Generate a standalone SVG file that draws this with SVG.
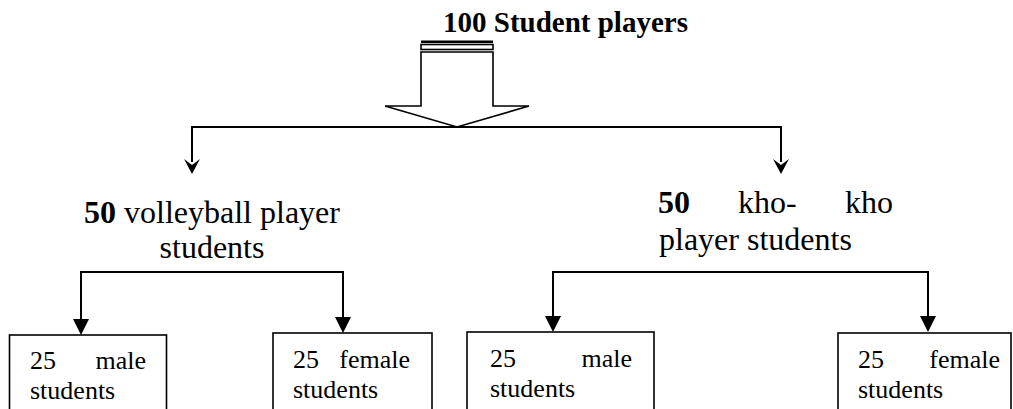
<svg xmlns="http://www.w3.org/2000/svg" width="1013" height="409" viewBox="0 0 1013 409">
<style>
.t{font-family:"Liberation Serif","Times New Roman",serif;fill:#000}
.b{font-weight:bold}
.big{font-size:32px}
.box{font-size:26px}
.ln{stroke:#000;stroke-width:2;fill:none}
.bx{stroke:#000;stroke-width:1.6;fill:#fff}
.ah{fill:#000;stroke:none}
</style>
<g id="title">
<text class="t b" x="443" y="32" font-size="29">100 Student players</text>
</g>
<g id="blockarrow">
<rect x="421" y="40.5" width="72" height="2.5" fill="#000"/>
<rect x="421" y="44.5" width="72" height="5" class="bx" stroke-width="1.4"/>
<polygon points="421,52 493,52 493,106 529,106 457,127 385,106 421,106" fill="#fff" stroke="#000" stroke-width="1.6"/>
</g>
<g id="connectors">
<path class="ln" d="M192,162 V127 H781 V162"/>
<path class="ah" d="M192,174 L184,159 L192,165 L200,159 Z"/>
<path class="ah" d="M781,174 L773,159 L781,165 L789,159 Z"/>
<path class="ln" d="M81,320 V272 H343 V320"/>
<path class="ah" d="M81,335 L73,319 L89,319 Z"/>
<path class="ah" d="M343,333 L335,317 L351,317 Z"/>
<path class="ln" d="M553,318 V272 H928 V318"/>
<path class="ah" d="M553,332 L545,316 L561,316 Z"/>
<path class="ah" d="M928,332 L920,316 L936,316 Z"/>
</g>
<g id="volleyball">
<text class="t big" x="212" y="223" text-anchor="middle"><tspan class="b">50</tspan> volleyball player</text>
<text class="t big" x="212" y="258" text-anchor="middle">students</text>
</g>
<g id="khokho">
<text class="t big b" x="658" y="213">50</text>
<text class="t big" x="738" y="213">kho-</text>
<text class="t big" x="893" y="213" text-anchor="end">kho</text>
<text class="t big" x="659" y="250">player students</text>
</g>
<g id="vb-male">
<rect class="bx" x="9.5" y="335" width="157" height="90"/>
<text class="t box" x="30" y="369">25</text>
<text class="t box" x="146" y="369" text-anchor="end">male</text>
<text class="t box" x="30" y="399">students</text>
</g>
<g id="vb-female">
<rect class="bx" x="273" y="333" width="159" height="90"/>
<text class="t box" x="293" y="368">25</text>
<text class="t box" x="410" y="368" text-anchor="end">female</text>
<text class="t box" x="293" y="398">students</text>
</g>
<g id="kho-male">
<rect class="bx" x="467" y="332" width="187" height="90"/>
<text class="t box" x="490" y="367">25</text>
<text class="t box" x="632" y="367" text-anchor="end">male</text>
<text class="t box" x="490" y="397">students</text>
</g>
<g id="kho-female">
<rect class="bx" x="838" y="333" width="173" height="90"/>
<text class="t box" x="858" y="368">25</text>
<text class="t box" x="1000" y="368" text-anchor="end">female</text>
<text class="t box" x="858" y="398">students</text>
</g>
</svg>
